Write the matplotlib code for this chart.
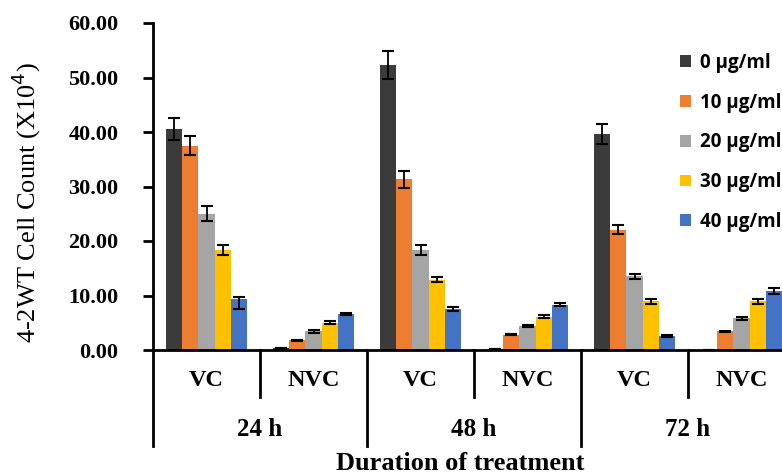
import numpy as np
import matplotlib
matplotlib.use("Agg")
import matplotlib.pyplot as plt

# data
subgroups = ['VC', 'NVC', 'VC', 'NVC', 'VC', 'NVC']
times = ['24 h', '48 h', '72 h']
conc_labels = ['0 µg/ml', '10 µg/ml', '20 µg/ml', '30 µg/ml', '40 µg/ml']
colors = ['#3b3b3b', '#ed7d31', '#a5a5a5', '#ffc000', '#4472c4']

c0 = [40.6, 0.3, 52.3, 0.2, 39.6, 0.0]
c10 = [37.5, 1.8, 31.3, 2.8, 22.1, 3.4]
c20 = [25.0, 3.4, 18.4, 4.4, 13.5, 5.8]
c30 = [18.4, 5.0, 12.9, 6.1, 8.9, 8.9]
c40 = [9.3, 6.6, 7.5, 8.3, 2.5, 10.8]

e0 = [2.0, 0.0, 2.5, 0.0, 1.8, 0.0]
e10 = [1.7, 0.1, 1.5, 0.1, 0.9, 0.1]
e20 = [1.4, 0.2, 0.9, 0.2, 0.5, 0.3]
e30 = [0.9, 0.3, 0.5, 0.3, 0.4, 0.4]
e40_low = [1.8, 0.2, 0.3, 0.3, 0.2, 0.5]
e40_up = [0.5, 0.2, 0.3, 0.3, 0.2, 0.5]

values = [c0, c10, c20, c30, c40]
errs = [e0, e10, e20, e30, [e40_low, e40_up]]

serif = 'Liberation Serif'

fig = plt.figure(figsize=(7.82, 4.76), dpi=100)
ax = fig.add_axes([153 / 782, 126 / 476, 642 / 782, 327 / 476])

x = np.arange(len(subgroups))
w = 0.153
handles = []
for i in range(5):
    pos = x + (i - 2) * w
    b = ax.bar(pos, values[i], w, color=colors[i], linewidth=0, label=conc_labels[i], zorder=2)
    handles.append(b)
    ax.errorbar(pos, values[i], yerr=errs[i], fmt='none', ecolor='black',
                elinewidth=1.3, capsize=4, capthick=1.5, zorder=3)

ax.set_xlim(-0.5, 5.5)
ax.set_ylim(0, 60)
ax.set_yticks(np.arange(0, 61, 10))
ax.set_yticklabels(['%.2f' % v for v in np.arange(0, 61, 10)],
                   fontfamily=serif, fontweight='bold', fontsize=16)
ax.tick_params(axis='y', direction='out', length=7, width=2, pad=18)
ax.set_xticks([])
ax.spines['top'].set_visible(False)
ax.spines['right'].set_visible(False)
ax.spines['left'].set_linewidth(2)
ax.spines['bottom'].set_linewidth(2)

# category dividers below the axis
tr = ax.get_xaxis_transform()
for k in range(7):
    xb = k - 0.5
    yend = -0.294 if k % 2 == 0 else -0.144
    ax.plot([xb, xb], [0, yend], color='black', lw=2, transform=tr, clip_on=False)

for k, s in enumerate(subgroups):
    ax.text(k, -0.092, s, transform=tr, ha='center', va='center',
            fontfamily=serif, fontweight='bold', fontsize=17.5)
for k, t in enumerate(times):
    ax.text(2 * k + 0.5, -0.242, t, transform=tr, ha='center', va='center',
            fontfamily=serif, fontweight='bold', fontsize=18)

fig.text(460 / 782, 1 - 463 / 476, 'Duration of treatment', ha='center', va='center',
         fontfamily=serif, fontweight='bold', fontsize=19)
fig.text(26 / 782, 1 - 203 / 476, '4-2WT Cell Count (X10$^4$)', rotation=90,
         ha='center', va='center', fontfamily=serif, fontsize=19)

fig.legend(handles=handles, loc='upper left', bbox_to_anchor=(680 / 782, 1 - 53 / 476),
           frameon=False, prop={'family': 'Open Sans', 'weight': 'bold', 'size': 13.5},
           handlelength=0.6, handleheight=0.6, handletextpad=0.45, labelspacing=1.05,
           borderpad=0, borderaxespad=0)

fig.savefig('out.png', dpi=100)
